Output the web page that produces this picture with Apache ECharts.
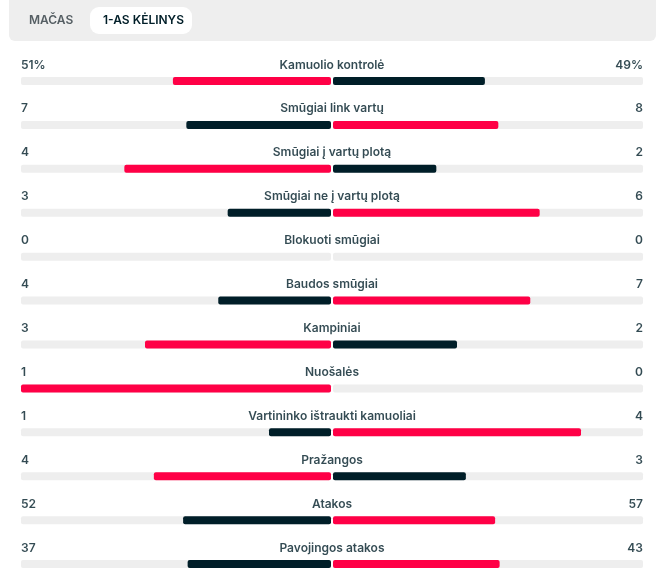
<!DOCTYPE html>
<html>
<head>
<meta charset="utf-8">
<script src="https://cdn.jsdelivr.net/npm/echarts@6/dist/echarts.min.js"></script>
<style>
  html, body { margin: 0; padding: 0; background: #fff; }
  #main { width: 662px; height: 586px; }
</style>
</head>
<body>
<div id="main"></div>
<script>
var categories = ['Kamuolio kontrolė', 'Smūgiai link vartų', 'Smūgiai į vartų plotą', 'Smūgiai ne į vartų plotą',
  'Blokuoti smūgiai', 'Baudos smūgiai', 'Kampiniai', 'Nuošalės', 'Vartininko ištraukti kamuoliai',
  'Pražangos', 'Atakos', 'Pavojingos atakos'];
var homeValues = [51, 7, 4, 3, 0, 4, 3, 1, 1, 4, 52, 37];
var awayValues = [49, 8, 2, 6, 0, 7, 2, 0, 4, 3, 57, 43];
var valueSuffix = ['%', '', '', '', '', '', '', '', '', '', '', ''];
var tabs = ['MAČAS', '1-AS KĖLINYS'];

var RED = '#ff0046';
var DARK = '#001e28';
var FONT = 'Inter, "Noto Sans", sans-serif';

var chart = echarts.init(document.getElementById('main'));

// bar share of each side, colour: bigger side red
function sideData(mine, other) {
  return mine.map(function (v, i) {
    var total = v + other[i];
    return {
      value: total ? v / total : 0,
      itemStyle: { color: v >= other[i] ? RED : DARK }
    };
  });
}
var ones = categories.map(function () { return 1; });

var option = {
  animation: false,
  backgroundColor: '#fff',
  textStyle: { fontFamily: FONT },
  grid: [
    { left: 21, width: 310, top: 59, height: 527 },
    { left: 333, width: 310, top: 59, height: 527 }
  ],
  xAxis: [
    { gridIndex: 0, type: 'value', min: 0, max: 1, inverse: true, show: false },
    { gridIndex: 1, type: 'value', min: 0, max: 1, show: false }
  ],
  yAxis: [
    { gridIndex: 0, type: 'category', data: categories, inverse: true, show: false },
    { gridIndex: 1, type: 'category', data: categories, inverse: true, show: false }
  ],
  graphic: [
    {
      type: 'rect', left: 9, top: -6, z: 0,
      shape: { width: 647, height: 47, r: 6 },
      style: { fill: '#eeeeee' }
    },
    {
      type: 'rect', left: 90, top: 7, z: 1,
      shape: { width: 102, height: 27, r: 9 },
      style: { fill: '#ffffff' }
    },
    {
      type: 'text', left: 29, top: 14, z: 2,
      style: { text: tabs[0], fill: '#555e63', font: '600 12px ' + FONT }
    },
    {
      type: 'text', left: 103, top: 14, z: 2,
      style: { text: tabs[1], fill: DARK, font: '600 12px ' + FONT }
    }
  ],
  series: [
    {
      type: 'bar', xAxisIndex: 0, yAxisIndex: 0, data: ones, barWidth: 8, barGap: '-100%',
      silent: true, itemStyle: { color: '#eeeeee', borderRadius: 2 }
    },
    {
      type: 'bar', xAxisIndex: 0, yAxisIndex: 0, data: sideData(homeValues, awayValues),
      barWidth: 8, barGap: '-100%', itemStyle: { borderRadius: 2 }
    },
    {
      type: 'bar', xAxisIndex: 1, yAxisIndex: 1, data: ones, barWidth: 8, barGap: '-100%',
      silent: true, itemStyle: { color: '#eeeeee', borderRadius: 2 }
    },
    {
      type: 'bar', xAxisIndex: 1, yAxisIndex: 1, data: sideData(awayValues, homeValues),
      barWidth: 8, barGap: '-100%', itemStyle: { borderRadius: 2 }
    },
    {
      // left values
      type: 'scatter', xAxisIndex: 0, yAxisIndex: 0, symbolSize: 0, z: 5,
      data: homeValues.map(function (v, i) { return [1, i]; }),
      label: {
        show: true, position: 'inside', align: 'left', verticalAlign: 'middle', offset: [0, -16],
        color: DARK, fontSize: 12, fontWeight: 600, fontFamily: FONT,
        formatter: function (p) { return homeValues[p.dataIndex] + valueSuffix[p.dataIndex]; }
      }
    },
    {
      // stat names
      type: 'scatter', xAxisIndex: 0, yAxisIndex: 0, symbolSize: 0, z: 5,
      data: categories.map(function (c, i) { return [0, i]; }),
      label: {
        show: true, position: 'inside', align: 'center', verticalAlign: 'middle', offset: [1, -16],
        color: DARK, fontSize: 12, fontWeight: 600, fontFamily: FONT,
        formatter: function (p) { return categories[p.dataIndex]; }
      }
    },
    {
      // right values
      type: 'scatter', xAxisIndex: 1, yAxisIndex: 1, symbolSize: 0, z: 5,
      data: awayValues.map(function (v, i) { return [1, i]; }),
      label: {
        show: true, position: 'inside', align: 'right', verticalAlign: 'middle', offset: [0, -16],
        color: DARK, fontSize: 12, fontWeight: 600, fontFamily: FONT,
        formatter: function (p) { return awayValues[p.dataIndex] + valueSuffix[p.dataIndex]; }
      }
    }
  ]
};

chart.setOption(option);
</script>
</body>
</html>
